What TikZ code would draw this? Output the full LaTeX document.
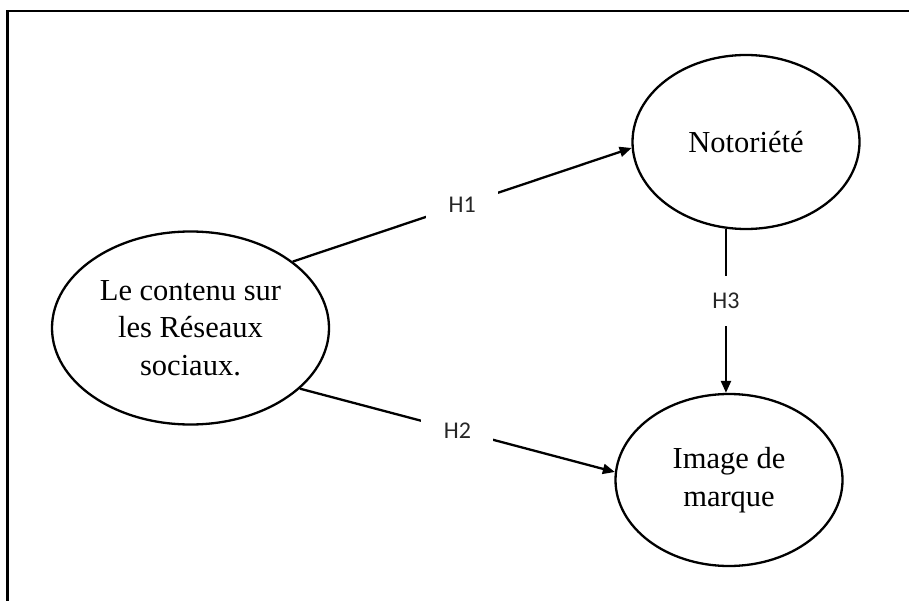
\documentclass[tikz,border=0pt]{standalone}
\usepackage{fontspec}
\setmainfont{Liberation Serif}
\newfontfamily\labelfont{Carlito}
\usetikzlibrary{shapes.geometric,arrows.meta}
\begin{document}
\begin{tikzpicture}[x=1pt,y=-1pt,
  concept/.style={draw,ellipse,line width=2.3pt,inner sep=0pt,align=center,
    font=\fontsize{30.5}{37.5}\selectfont},
  link/.style={line width=2.3pt,-{Triangle[length=12pt,width=10pt]}},
  hlabel/.style={fill=white,inner sep=0pt,minimum width=72pt,minimum height=50pt,
    font=\labelfont\fontsize{24}{24}\selectfont,text=black!85},
  frameline/.style={line width=2.6pt}
]
\useasboundingbox (0,0) rectangle (909,601);
\coordinate (fb) at (7.5,615);
\coordinate (fc) at (7.5,11);
\coordinate (fr) at (920,11);
\draw[frameline] (fb) -- (fc) -- (fr);

\node[concept,minimum width=277pt,minimum height=193pt] (C) at (190.5,328)
  {Le contenu sur\\les Réseaux\\sociaux.};
\node[concept,minimum width=227pt,minimum height=174pt] (N) at (746,142)
  {Notoriété};
\node[concept,minimum width=227pt,minimum height=172pt] (I) at (729,480)
  {Image de\\marque};

\draw[link] (C.33) -- node[hlabel,pos=0.5] {H1} (N.183);
\draw[link] (C.-29.5) -- node[hlabel,pos=0.5] {H2} (I.176.5);
\draw[link] (N.257) -- node[hlabel,pos=0.44] {H3} (N.257 |- I.north);
\end{tikzpicture}
\end{document}
